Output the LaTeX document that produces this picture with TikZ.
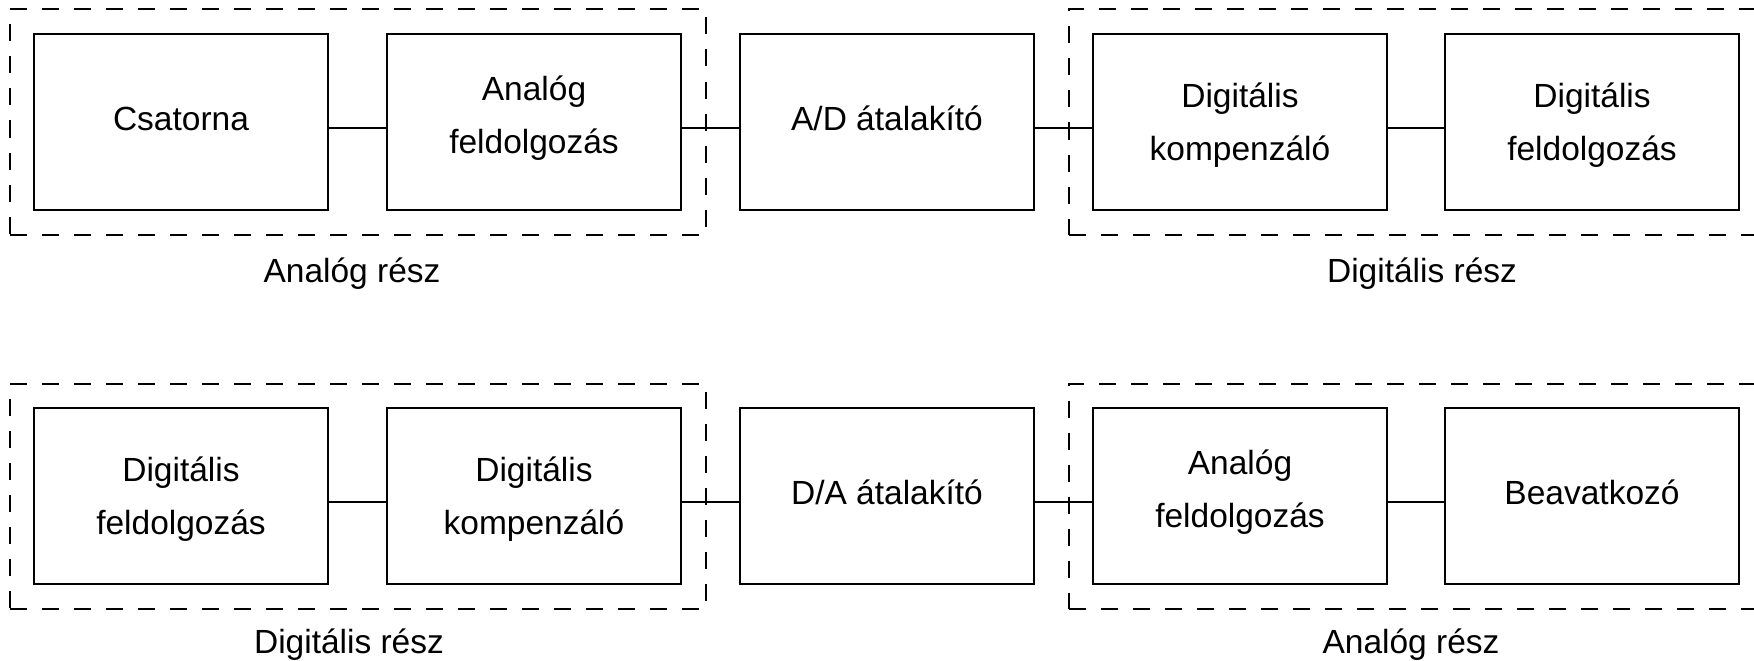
\documentclass[tikz,border=0pt]{standalone}
\usepackage{fontspec}
\setmainfont{Liberation Sans}
\usetikzlibrary{fit}
\tikzset{
  blk/.style={draw, line width=2pt, minimum width=294pt, minimum height=176pt,
    inner sep=0pt, align=center, font=\fontsize{33.5}{53}\selectfont},
  one/.style={text height=24pt, text depth=8pt},
  twoa/.style={text height=68pt, text depth=6pt},
  twod/.style={text height=82pt, text depth=6pt},
  grp/.style={draw, line width=2pt, dash pattern=on 17pt off 15pt, inner sep=23.5pt},
  lbl/.style={anchor=base, inner sep=0pt, font=\fontsize{33.5}{40}\selectfont},
  wire/.style={line width=2pt},
}
\begin{document}
\begin{tikzpicture}[x=1pt, y=-1pt]
\useasboundingbox (0,0) rectangle (1754,661);
\clip (0,0) rectangle (1754,661);
% analogue-to-digital chain
\node[blk, one] (c1) at (181,122) {Csatorna};
\node[blk, twoa] (c2) at (534,122) {Analóg\\feldolgozás};
\node[blk, one] (c3) at (887,122) {A/D átalakító};
\node[blk, twod] (c4) at (1240,122) {Digitális\\kompenzáló};
\node[blk, twod] (c5) at (1592,122) {Digitális\\feldolgozás};
\node[grp, fit=(c1)(c2)] (ga1) {};
\node[grp, fit=(c4)(c5)] (gd1) {};
\node[lbl] (la1) at (352,282) {Analóg rész};
\node[lbl] (ld1) at (1422,282) {Digitális rész};
\foreach \a/\b in {c1/c2, c2/c3, c3/c4, c4/c5}
  \draw[wire] ([yshift=-6pt]\a.east) -- ([yshift=-6pt]\b.west);
% digital-to-analogue chain
\node[blk, twod] (d1) at (181,496) {Digitális\\feldolgozás};
\node[blk, twod] (d2) at (534,496) {Digitális\\kompenzáló};
\node[blk, one] (d3) at (887,496) {D/A átalakító};
\node[blk, twoa] (d4) at (1240,496) {Analóg\\feldolgozás};
\node[blk, one] (d5) at (1592,496) {Beavatkozó};
\node[grp, fit=(d1)(d2)] (gd2) {};
\node[grp, fit=(d4)(d5)] (ga2) {};
\node[lbl] (ld2) at (349,653) {Digitális rész};
\node[lbl] (la2) at (1411,653) {Analóg rész};
\foreach \a/\b in {d1/d2, d2/d3, d3/d4, d4/d5}
  \draw[wire] ([yshift=-6pt]\a.east) -- ([yshift=-6pt]\b.west);
\end{tikzpicture}
\end{document}
